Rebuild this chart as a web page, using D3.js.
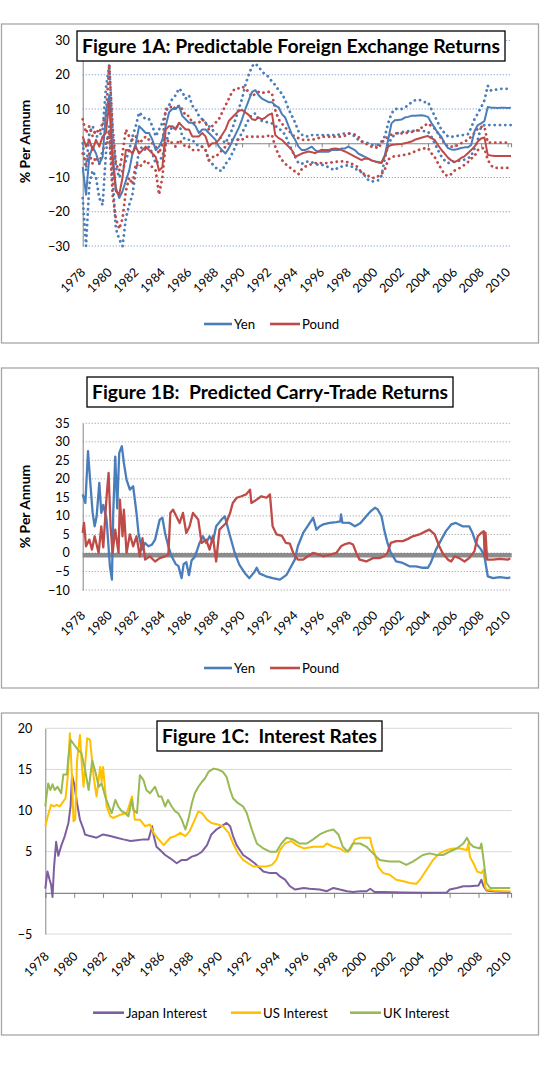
<!DOCTYPE html>
<html><head><meta charset="utf-8">
<script src="https://cdn.jsdelivr.net/npm/d3@7"></script>
<style>
body{margin:0;background:#fff}
svg{display:block}
text{font-family:Lato,"Open Sans",sans-serif;fill:#000}
</style>
</head><body>
<svg id="chart" width="547" height="1068"></svg>
<script>
// ---------- DATA ----------
const yearTicks = [1978,1980,1982,1984,1986,1988,1990,1992,1994,1996,1998,2000,2002,2004,2006,2008,2010];
const ticksA = [-30,-20,-10,0,10,20,30];
const ticksB = [-10,-5,0,5,10,15,20,25,30,35];
const ticksC = [-5,0,5,10,15,20];

// Figure 1A: quarterly values 1978Q1 .. 2010Q2
const yenA = [
 -7,-15,-4,-1,  -3,-6,-4,9,  14,-3,-13,-16,  -14,-11,-8,-3,  0,5,4,3,  3,1,-2,-1,
 1,5,9,10,  10,11,8,7,  6,6,5,3,  4,4,3,2,  1,-1,-2,-3,  -1.5,0.5,2.5,4.5,
 7,10,12.5,15,  15.5,14,13,12.5,  12,12,11,10.5,  8.5,7.5,5,2.5,  1,-1,-2,-2,
 -1.5,-1,-2,-2.5,  -2.5,-2.5,-2.5,-2,  -2,-2,-1.5,-1.5,  -1,-1.5,-2,-3,  -3.5,-4,-4.5,-5,
 -5.3,-5.5,-5.6,-3.5,  1,5.8,6.7,6.8,  6.9,7.5,7.7,8,  8,8.1,8.2,8,  7.7,6,4.5,3,
 1.9,0,-1.4,-1.8,  -1.9,-1.7,-1.4,-1.2,  -1.2,-0.5,3.5,5.3,  5.8,6.5,10.6,10.4,
 10.4,10.3,10.4,10.4,  10.3,10.4];
const yenAHigh = [
 0,-8,3,5,  2,2,4,16,  23,3,-7,-10,  -8,-5,-2,2,  5,9,8,7,  7,5,2,4,
 6,9,11,13,  14,16,15,13,  14,11,10,8,  7,6,5,4,  3,2,1,0,  2,4,7,10,
 13,17,20,22.5,  23.3,22.3,21,20,  19.4,18,17,15.5,  14.5,12.6,10,8,  6,3.5,2.5,2,
 2,2.4,2.4,2.4,  2.4,2.4,2.4,2.4,  2.4,2.5,2.7,2.9,  2.9,2.5,2,1,  0.5,0.3,0,-0.5,
 -0.5,-0.5,0.5,2,  5.8,8.7,10,10,  10,10.5,11,12,  12.5,12.7,12.5,12,  12,10,8,6,
 4,3,2,1.9,  1.9,2.2,2.4,2.4,  2.6,4.5,7,8.7,  10.5,12.5,16.8,15.4,
 15.5,15.8,15.9,15.9,  15.9,15.9];
const yenALow = [
 -16,-30,-12,-8,  -10,-16,-18,-3,  5,-10,-25,-28,  -30,-22,-18,-15,  -8,-2,-1,-2,  -1,-3,-6,-5,
 -4,0,3,5,  4,6,2,1,  1,1,0,-1,  -1,-2,-5,-6,  -7,-8,-8,-6,  -5,-3,-1,1.5,
 3,5,7,8.5,  8.7,7,6.5,6.3,  6,5.8,5,4.5,  3.5,2.5,0,-2,  -4,-5.8,-6,-5.5,
 -5.3,-5.5,-6,-6.3,  -6.3,-6.5,-7,-7.5,  -7.8,-7,-6.8,-6.5,  -6.5,-6.8,-7.5,-7.8,  -8.5,-9.5,-10.7,-11.2,
 -11,-10.8,-9.5,-4.5,  -0.5,1.5,2.5,3,  3.2,3.4,3.5,3.6,  3.6,3.7,3.7,3.5,  3.4,2,0,-2,
 -3.8,-5,-5.8,-5.6,  -5.4,-5.2,-5,-4.8,  -4.4,-3.8,-1.5,1,  4.8,5.3,5.3,5.3,
 5.3,5.3,5.3,5.3,  5.3,5.3];
const poundA = [
 2,-1,1,-2,  1,-1,2,3,  12,-5,-14,-15,  -10,-2,-2,-3,  -1,-3,-2,-1,  -2,-3,-4,-8,
 -7,4,5,5,  4,6,5,4,  4,2,2,2,  3,2,-1,0,  0,1,2.5,4,  6.5,7.5,8.5,9.5,
 9.7,9,8.3,7,  6.8,7.5,7,7.5,  8.3,8.7,2.4,1.5,  1,0,-1,-2,  -3.9,-3.5,-3,-2.7,
 -2.4,-2.6,-2.9,-2.4,  -1.9,-2,-2,-1.7,  -1.5,-1.7,-2,-2.4,  -2.9,-3.4,-3.9,-4.4,  -4.9,-4.5,-4.5,-5,
 -5.3,-5.6,-5.8,-3.8,  -1,-0.5,-0.4,-0.3,  -0.2,0,0.2,0.5,  1,1.3,1.6,1.9,  2.1,1.5,1,-0.5,
 -1.9,-3,-4.2,-5,  -5.5,-5,-4.3,-3.8,  -2.9,-2,-1,0.5,  1.4,1.7,-3.4,-3.6,
 -3.7,-3.7,-3.7,-3.7,  -3.7,-3.7];
const poundAHigh = [
 7,3,5,2,  4,3,6,8,  23,5,-6,-8,  -3,4,2,1,  2,0,1,2,  1,0,-1,-3,
 0,10,10,11,  10,11,10,8,  8,6,6,6,  7,6,4,5,  6,7,9,11,  13,15,16,16,
 16.5,16,15,13.6,  14.5,15,14.6,15,  15,14.6,9.7,7,  5.8,4.5,3.9,2.5,  1.9,1.5,1,1,
 1,1,1.2,1.5,  1.9,1.9,1.9,1.9,  1.9,1.9,2,2.2,  2.9,2.8,2.5,2,  0.5,0,-0.5,-1,
 -1,-1.5,0,1.2,  1.9,2.5,2.9,2.9,  2.9,3,3.1,3.3,  3.6,3.8,4.5,5.2,  5.8,5,4.3,3,
 1.4,0,-1,-1,  -1,-0.5,0,0.5,  1,1.9,3,4.3,  4.8,4.8,0.2,0.2,
 0.2,0.2,0.2,0.2,  0.2,0.2];
const poundALow = [
 -3,-6,-3,-6,  -4,-6,-2,0,  3,-15,-22,-25,  -22,-14,-10,-12,  -6,-7,-6,-5,  -6,-7,-8,-15,
 -10,0,1,0,  -1,1,0,-1,  -1,-2,-2,-2,  -1,-2,-5,-4,  -4,-3,-2,-1,  0,1,1,1,
 1,1.9,1.9,1.9,  1.9,1.9,1.9,2,  2.2,2.4,-1,-3.4,  -4.9,-6,-6.8,-7.5,  -8.3,-9,-7.5,-6.8,
 -6.5,-6,-5.8,-5.8,  -5.8,-5.8,-5.8,-5.6,  -5.5,-5.3,-5.3,-5.3,  -5.6,-6,-6.5,-7,  -8.7,-9,-9.5,-10,
 -10.2,-9.6,-9,-7.7,  -4.8,-4,-3.8,-3.7,  -3.5,-3.4,-3.2,-2.8,  -2.4,-2,-1.7,-1.5,  -1.4,-2.9,-4,-5.8,
 -7.5,-9.1,-9.6,-9,  -8,-7.5,-7,-6.3,  -5.5,-4.5,-3.8,-2,  -1.4,-1.5,-4.8,-6.5,
 -7.2,-7.2,-7.2,-7.2,  -7.2,-7.2];

// Figure 1B: [year, value]
const yenB = [[1978.0,15.8],[1978.2,13.5],[1978.4,27.5],[1978.55,20],[1978.75,10.8],[1978.9,7.2],[1979.05,9.9],[1979.25,18.9],[1979.4,10.8],[1979.55,13],[1979.8,9],[1980.05,-3.6],[1980.2,-7.2],[1980.3,10.8],[1980.45,26],[1980.6,12],[1980.75,27],[1980.95,28.8],[1981.1,24.3],[1981.3,19.8],[1981.55,17.1],[1981.8,18],[1982.05,10.8],[1982.2,5.4],[1982.45,0.9],[1982.7,2.7],[1982.95,1.8],[1983.2,2.2],[1983.45,3.6],[1983.8,9],[1984.0,9.5],[1984.2,5.4],[1984.45,1.8],[1984.7,-0.9],[1985.0,-3],[1985.2,-3.5],[1985.45,-6.8],[1985.6,-3],[1985.8,-2.5],[1986.0,-6],[1986.2,-2],[1986.45,-1],[1986.8,2.7],[1987.05,4.5],[1987.3,2.7],[1987.55,4.5],[1987.8,3],[1988.05,7.2],[1988.45,9],[1988.7,9.9],[1989.1,4.5],[1989.45,0],[1989.8,-3.2],[1990.2,-5.4],[1990.55,-6.8],[1990.95,-5],[1991.1,-4],[1991.3,-5.5],[1991.8,-6.3],[1992.3,-6.8],[1992.85,-7.2],[1993.35,-5.9],[1993.7,-3.6],[1993.97,-1.8],[1994.2,1.8],[1994.6,5.4],[1995.1,8.1],[1995.35,9.5],[1995.6,6.3],[1995.85,7.2],[1996.1,7.7],[1996.6,8.1],[1997.1,8.3],[1997.4,8.5],[1997.45,10.4],[1997.55,8.2],[1998.1,8.1],[1998.5,7.2],[1998.9,8],[1999.35,9.9],[1999.7,11.3],[2000.0,12.2],[2000.2,11.8],[2000.5,9.9],[2000.7,6.3],[2000.95,2.7],[2001.2,0],[2001.6,-2.3],[2002.1,-2.7],[2002.6,-3.6],[2003.1,-3.6],[2003.6,-4],[2004.0,-4],[2004.2,-2.7],[2004.6,0.9],[2005.0,3.6],[2005.35,5.9],[2005.75,7.7],[2006.1,8.1],[2006.6,7.2],[2007.1,7.2],[2007.35,5.4],[2007.6,2.7],[2008.0,0.9],[2008.25,-0.9],[2008.5,-6.3],[2008.9,-6.8],[2009.4,-6.5],[2010.0,-6.8],[2010.2,-6.6]];
const poundB = [[1978.0,5.4],[1978.1,8.1],[1978.25,1.8],[1978.5,3.6],[1978.7,0.9],[1978.9,4.5],[1979.2,0],[1979.4,7.2],[1979.55,1.5],[1979.8,15.3],[1979.95,21.6],[1980.1,7.2],[1980.25,0],[1980.45,6.3],[1980.7,0],[1980.8,14.4],[1981.0,4.5],[1981.1,11.7],[1981.3,0],[1981.55,5],[1981.8,1.8],[1982.05,4.5],[1982.3,-0.9],[1982.5,4],[1982.7,-1.8],[1983.05,-0.9],[1983.45,-2.3],[1983.8,-1.4],[1984.2,-0.9],[1984.45,-0.5],[1984.6,10.8],[1984.8,11.7],[1985.05,9.9],[1985.3,8.1],[1985.55,10.8],[1985.8,5.4],[1986.05,7.2],[1986.3,10.8],[1986.7,9],[1986.95,2.7],[1987.3,3.6],[1987.55,0.9],[1987.8,4.5],[1988.05,-2.3],[1988.3,6.3],[1988.55,7.2],[1988.8,8.1],[1989.1,10.8],[1989.3,13.5],[1989.6,14.9],[1989.95,15.3],[1990.3,15.8],[1990.6,17.1],[1990.7,13.5],[1991.1,14.4],[1991.45,15.3],[1991.85,14.9],[1992.1,15.8],[1992.3,7.2],[1992.6,5],[1993.0,4.6],[1993.3,2.7],[1993.6,2.5],[1993.85,0],[1994.2,-1.8],[1994.6,-1.8],[1994.95,-0.9],[1995.35,0],[1995.85,-0.5],[1996.1,-0.9],[1996.6,-0.5],[1997.1,0],[1997.45,1.8],[1997.7,2.3],[1998.1,2.7],[1998.35,2.3],[1998.6,0],[1998.85,-1.8],[1999.35,-2.3],[1999.85,-1.4],[2000.35,-1.4],[2000.7,-0.9],[2000.95,0],[2001.2,2.7],[2001.6,3.2],[2002.1,3.2],[2002.5,3.8],[2002.85,4.5],[2003.35,5],[2003.85,5.9],[2004.1,6.3],[2004.5,5],[2004.85,1.8],[2005.1,0],[2005.5,-1.8],[2005.75,-2.3],[2006.0,-0.9],[2006.35,-1.4],[2006.75,-2.3],[2007.1,-1.4],[2007.5,0.5],[2007.75,4.5],[2008.0,5.4],[2008.2,5.9],[2008.27,-1],[2008.33,5.5],[2008.45,-1.8],[2008.9,-1.8],[2009.4,-1.6],[2010.0,-1.8],[2010.2,-1.5]];
const carryZeroBand = -0.6;

// Figure 1C: [year, value]
const japanC = [[1978.0,0.5],[1978.15,2.6],[1978.3,1.6],[1978.4,1],[1978.5,-0.5],[1978.6,3],[1978.75,6.2],[1978.9,4.5],[1979.1,5.7],[1979.35,6.9],[1979.6,8.5],[1979.75,10.5],[1979.85,14.3],[1980.0,13.2],[1980.2,10.9],[1980.4,8.9],[1980.65,7.7],[1980.75,7.1],[1981.1,6.9],[1981.55,6.7],[1982.0,7.1],[1982.5,6.9],[1982.95,6.7],[1983.4,6.5],[1983.9,6.3],[1984.35,6.4],[1984.8,6.5],[1985.15,6.5],[1985.4,8.1],[1985.5,7],[1985.7,5.6],[1985.95,5.2],[1986.3,4.6],[1986.65,4.2],[1987.1,3.6],[1987.45,4],[1987.8,4],[1988.15,4.4],[1988.5,4.6],[1988.85,5],[1989.2,5.8],[1989.5,7.1],[1989.85,7.7],[1990.2,8.1],[1990.55,8.5],[1990.8,8.1],[1991.0,6.9],[1991.25,5.8],[1991.7,4.6],[1992.2,4],[1992.5,3.6],[1993.1,2.6],[1993.55,2.4],[1994.0,2.4],[1994.25,2],[1994.6,1.6],[1994.95,0.8],[1995.3,0.4],[1995.9,0.6],[1996.3,0.5],[1997.0,0.4],[1997.5,0.2],[1997.95,0.6],[1998.4,0.4],[1998.9,0.2],[1999.3,0.1],[1999.8,0.2],[2000.25,0.2],[2000.5,0.5],[2000.8,0.1],[2001.4,0.1],[2002.8,0.05],[2004.2,0.02],[2005.8,0.05],[2006.0,0.4],[2006.5,0.6],[2006.95,0.8],[2007.4,0.8],[2008.0,0.9],[2008.2,1.6],[2008.35,0.8],[2008.55,0.3],[2009.0,0.2],[2009.7,0.1],[2010.2,0.1]];
const usC = [[1978.0,8.1],[1978.2,9.5],[1978.4,10.7],[1978.6,10.5],[1978.8,10.7],[1979.0,10.5],[1979.2,11],[1979.4,11.5],[1979.55,14],[1979.7,19.4],[1979.85,14],[1979.95,8.7],[1980.07,8.9],[1980.2,16.1],[1980.4,19.2],[1980.55,15],[1980.65,12.9],[1980.9,18.8],[1981.1,18.6],[1981.35,14.1],[1981.55,11.7],[1981.8,15.3],[1981.9,13.5],[1982.0,15.3],[1982.25,10.5],[1982.5,9.3],[1982.7,9.1],[1983.2,9.5],[1983.65,9.7],[1984.0,11.7],[1984.2,8.9],[1984.55,8.9],[1984.9,8.1],[1985.25,8.3],[1985.5,7.3],[1985.85,6.5],[1986.2,5.8],[1986.65,6.7],[1987.0,6.9],[1987.35,7.3],[1987.7,6.9],[1988.0,7.5],[1988.35,8.9],[1988.6,9.9],[1988.85,9.7],[1989.2,8.9],[1989.5,8.5],[1989.95,8.3],[1990.3,8.1],[1990.7,7.3],[1991.0,6],[1991.35,4.8],[1991.7,4],[1992.05,3.6],[1992.4,3.2],[1992.85,3.2],[1993.3,3.2],[1993.7,3.4],[1994.0,4],[1994.25,5.2],[1994.6,6],[1995.05,6.3],[1995.4,5.8],[1995.9,5.4],[1996.55,5.6],[1997.25,5.6],[1997.5,6],[1997.95,5.6],[1998.4,5.4],[1998.75,5],[1999.1,5.2],[1999.45,6.5],[1999.8,6.7],[2000.5,6.7],[2000.6,5.8],[2000.8,4.8],[2001.05,3.2],[2001.4,2.4],[2001.85,2.2],[2002.3,1.6],[2002.8,1.4],[2003.25,1.2],[2003.7,1.1],[2003.95,1.6],[2004.4,2.8],[2004.85,4],[2005.3,4.8],[2005.8,5.2],[2006.25,5.4],[2006.7,5.4],[2007.2,5.2],[2007.3,6],[2007.4,4.4],[2007.65,3.6],[2007.9,2.6],[2008.2,2.4],[2008.35,2.8],[2008.45,0.8],[2008.55,0.4],[2009.0,0.3],[2009.7,0.2],[2010.2,0.2]];
const ukC = [[1978.0,10.5],[1978.1,12],[1978.2,13.3],[1978.35,12.5],[1978.5,13.2],[1978.65,12.5],[1978.85,12.9],[1979.1,12.1],[1979.25,14.4],[1979.5,14.4],[1979.6,16.5],[1979.75,18.6],[1980.0,18],[1980.25,17.4],[1980.5,17],[1980.75,15],[1981.0,12.5],[1981.25,16.1],[1981.5,14.5],[1981.7,12.9],[1981.9,13.3],[1982.15,11.7],[1982.4,10.5],[1982.6,9.7],[1982.85,11.3],[1983.05,10.5],[1983.3,9.9],[1983.55,9.7],[1983.75,9.3],[1984.0,11.3],[1984.1,10.1],[1984.35,9.7],[1984.55,14.3],[1984.8,13.7],[1985.0,12.5],[1985.25,12.1],[1985.6,12.9],[1985.85,11.7],[1986.05,11.7],[1986.3,10.5],[1986.5,11.3],[1986.75,10.5],[1987.0,9.9],[1987.2,9.7],[1987.45,8.9],[1987.7,7.7],[1987.9,8.9],[1988.15,10.9],[1988.35,12.1],[1988.6,12.9],[1988.85,13.5],[1989.05,13.9],[1989.3,14.7],[1989.65,15.1],[1989.95,15],[1990.3,14.7],[1990.55,14.1],[1990.8,12.5],[1991.0,11.5],[1991.35,10.9],[1991.7,10.5],[1991.95,9.7],[1992.3,7.7],[1992.65,6],[1993.1,5.4],[1993.55,5],[1994.0,5],[1994.35,6],[1994.7,6.7],[1995.15,6.5],[1995.6,6],[1996.1,6],[1996.55,6.5],[1997.0,7.1],[1997.5,7.5],[1997.95,7.7],[1998.3,7.1],[1998.6,5.6],[1998.95,5],[1999.3,6],[1999.8,6],[2000.25,5.6],[2000.7,4.8],[2001.15,4],[2001.85,3.8],[2002.55,3.8],[2003.0,3.4],[2003.45,3.8],[2004.15,4.6],[2004.6,4.8],[2005.1,4.6],[2005.55,4.6],[2006.0,5],[2006.5,5.4],[2006.95,6],[2007.2,6.7],[2007.4,6],[2007.65,5.6],[2008.1,5.4],[2008.2,6],[2008.35,4],[2008.55,1.2],[2008.8,0.6],[2009.25,0.6],[2010.2,0.6]];

// ---------- DRAWING ----------
const C = {blue:"#4a7ebb", red:"#be4b48", purple:"#7d5fa0", yellow:"#ffc000", green:"#98b954", axis:"#868686"};
const svg = d3.select("#chart");
const quarters = d3.range(yenA.length).map(i => 1978 + i / 4);
const zipQ = arr => quarters.map((t, i) => [t, arr[i]]);

function frame(y0, y1) {
  svg.append("rect").attr("x", 1.5).attr("y", y0).attr("width", 537).attr("height", y1 - y0)
    .attr("fill", "#fff").attr("stroke", "#a6a6a6").attr("stroke-width", 1.3);
}
function titleBox(x0, x1, y0, y1, txt) {
  svg.append("rect").attr("x", x0).attr("y", y0).attr("width", x1 - x0).attr("height", y1 - y0)
    .attr("fill", "#fff").attr("stroke", "#000").attr("stroke-width", 1.3);
  svg.append("text").attr("x", (x0 + x1) / 2).attr("y", (y0 + y1) / 2 + 6.5)
    .attr("text-anchor", "middle").attr("font-weight", "bold").attr("font-size", 19)
    .attr("textLength", x1 - x0 - 10).attr("lengthAdjust", "spacingAndGlyphs")
    .style("white-space", "pre").text(txt);
}
function yAxis(y, x0, x1, ticks, gridStyle) {
  const g = svg.append("g");
  g.selectAll("line.grid").data(ticks).join("line")
    .attr("x1", x0).attr("x2", x1).attr("y1", d => y(d)).attr("y2", d => y(d))
    .attr("stroke", gridStyle.color).attr("stroke-width", gridStyle.width)
    .attr("stroke-dasharray", gridStyle.dash);
  const ax = svg.append("g").attr("transform", `translate(${x0},0)`)
    .call(d3.axisLeft(y).tickValues(ticks).tickSize(0).tickPadding(13).tickFormat(d3.format("d")));
  ax.select(".domain").attr("stroke", C.axis).attr("stroke-width", 1);
  ax.selectAll("text").attr("font-size", 12.5).attr("font-family", "Lato").attr("fill", "#000");
}
function xLabels(x, yBase, dx, dy) {
  const ax = svg.append("g").attr("transform", `translate(0,${yBase})`)
    .call(d3.axisBottom(x).tickValues(yearTicks).tickSize(0).tickFormat(d3.format("d")));
  ax.select(".domain").remove();
  ax.selectAll("text").attr("x", 0).attr("y", 0).attr("dy", 0)
    .attr("transform", `translate(${dx},${dy}) rotate(-45)`)
    .attr("text-anchor", "end").attr("font-size", 12.5).attr("font-family", "Lato").attr("fill", "#000");
}
function xTickAxis(x, yPos, size) {
  const ax = svg.append("g").attr("transform", `translate(0,${yPos})`)
    .call(d3.axisBottom(x).tickValues(yearTicks).tickSize(size).tickFormat(""));
  ax.select(".domain").attr("stroke", C.axis).attr("stroke-width", 1.2);
  ax.selectAll(".tick line").attr("stroke", C.axis);
}
function series(x, y, data, color, width, dash) {
  svg.append("path").datum(data)
    .attr("d", d3.line().x(d => x(d[0])).y(d => y(d[1])))
    .attr("fill", "none").attr("stroke", color).attr("stroke-width", width)
    .attr("stroke-linejoin", "round").attr("stroke-linecap", dash ? "round" : "butt")
    .attr("stroke-dasharray", dash || null);
}
function yTitle(cx, cy, txt) {
  svg.append("text").attr("transform", `translate(${cx},${cy}) rotate(-90)`)
    .attr("text-anchor", "middle").attr("font-weight", "bold").attr("font-size", 14).text(txt);
}
function legend(items, cy) {
  items.forEach(it => {
    svg.append("line").attr("x1", it.x0).attr("x2", it.x1).attr("y1", cy).attr("y2", cy)
      .attr("stroke", it.color).attr("stroke-width", 2.6);
    svg.append("text").attr("x", it.x1 + 2).attr("y", cy + 4.8).attr("font-size", 13.2).text(it.label);
  });
}

// ===== Figure 1A =====
frame(24, 343);
const xA = d3.scaleLinear().domain([1978, 2010.25]).range([82.7, 511]);
const yA = d3.scaleLinear().domain([-30, 30]).range([246, 40.5]);
yAxis(yA, 82.7, 511.7, ticksA.filter(d => d !== 0), {color: "#7f9fcf", width: 1, dash: "1.2,1.8"});
xTickAxis(xA, yA(0), 4);
xLabels(xA, 246, 3, 27);
yTitle(29.5, 141.5, "% Per Annum");
series(xA, yA, zipQ(yenAHigh), C.blue, 2.8, "0.1,5.2");
series(xA, yA, zipQ(yenALow), C.blue, 2.8, "0.1,5.2");
series(xA, yA, zipQ(poundAHigh), C.red, 2.8, "0.1,5.2");
series(xA, yA, zipQ(poundALow), C.red, 2.8, "0.1,5.2");
series(xA, yA, zipQ(yenA), C.blue, 2);
series(xA, yA, zipQ(poundA), C.red, 2);
titleBox(77, 505, 31, 61, "Figure 1A: Predictable Foreign Exchange Returns");
legend([{x0: 204, x1: 232, color: C.blue, label: "Yen"}, {x0: 270, x1: 300, color: C.red, label: "Pound"}], 324);

// ===== Figure 1B =====
frame(368, 688);
const xB = d3.scaleLinear().domain([1978, 2010.25]).range([82.7, 511]);
const yB = d3.scaleLinear().domain([-10, 35]).range([590, 423.3]);
yAxis(yB, 82.7, 511.7, ticksB, {color: "#a6a6a6", width: 1, dash: "1.2,1.8"});
svg.append("line").attr("x1", xB(1978)).attr("x2", 511.7)
  .attr("y1", yB(carryZeroBand)).attr("y2", yB(carryZeroBand))
  .attr("stroke", "#8c8c8c").attr("stroke-width", 4.6);
xLabels(xB, 590, 3, 26);
yTitle(30, 506.5, "% Per Annum");
series(xB, yB, yenB, C.blue, 2.3);
series(xB, yB, poundB, C.red, 2.3);
titleBox(87, 453, 377, 407, "Figure 1B:  Predicted Carry-Trade Returns");
legend([{x0: 204, x1: 232, color: C.blue, label: "Yen"}, {x0: 270, x1: 300, color: C.red, label: "Pound"}], 668);

// ===== Figure 1C =====
frame(713, 1035);
const xC = d3.scaleLinear().domain([1978, 2010.25]).range([45.3, 511]);
const yC = d3.scaleLinear().domain([-5, 20]).range([934, 728.3]);
yAxis(yC, 45.3, 511.7, ticksC.filter(d => d !== 0), {color: "#d9d9d9", width: 1, dash: null});
xTickAxis(xC, yC(0), 5);
xLabels(xC, 934, 4, 23);
series(xC, yC, japanC, C.purple, 2);
series(xC, yC, usC, C.yellow, 2);
series(xC, yC, ukC, C.green, 2);
titleBox(157, 382, 721, 751, "Figure 1C:  Interest Rates");
legend([
  {x0: 93, x1: 124, color: C.purple, label: "Japan Interest"},
  {x0: 231, x1: 261, color: C.yellow, label: "US Interest"},
  {x0: 350, x1: 381, color: C.green, label: "UK Interest"}], 1012.7);
</script>
</body></html>
